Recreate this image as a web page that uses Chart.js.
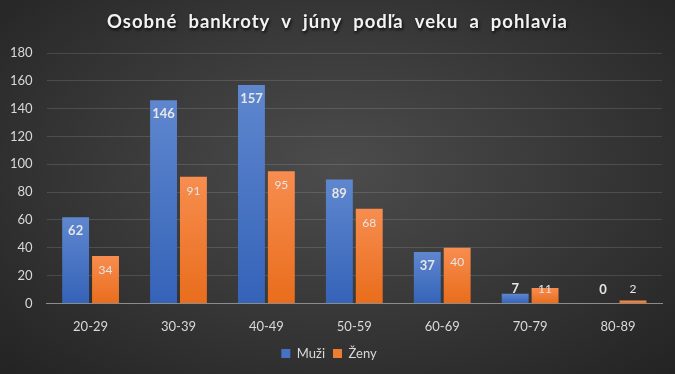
<!DOCTYPE html>
<html>
<head>
<meta charset="utf-8">
<script src="https://cdn.jsdelivr.net/npm/chart.js@4.4.1/dist/chart.umd.min.js"></script>
<style>
  html, body { margin: 0; padding: 0; }
  body {
    width: 675px; height: 374px; overflow: hidden;
    background: radial-gradient(ellipse at 50% 45%, #4c4c4c 0%, #3a3a3a 45%, #232323 100%);
  }
  #wrap { position: relative; width: 675px; height: 374px; }
</style>
</head>
<body>
<div id="wrap"><canvas id="chart"></canvas></div>
<script>
// chart data
const titleText = 'Osobné  bankroty  v  júny  podľa  veku  a  pohlavia';
const ageGroups = ['20-29', '30-39', '40-49', '50-59', '60-69', '70-79', '80-89'];
const muzi = [62, 146, 157, 89, 37, 7, 0];
const zeny = [34, 91, 95, 68, 40, 11, 2];
const seriesNames = ['Muži', 'Ženy'];

const FONT = 'Lato, "Open Sans", sans-serif';

// gradient per bar, lighter at the top
function barGradient(light, dark) {
  return (c) => {
    const chart = c.chart;
    if (!chart.chartArea || c.type !== 'data') return dark;
    const y = chart.scales.y;
    const top = y.getPixelForValue(c.raw);
    const base = y.getPixelForValue(0);
    if (base - top < 1) return dark;
    const g = chart.ctx.createLinearGradient(0, top, 0, base);
    g.addColorStop(0, light);
    g.addColorStop(1, dark);
    return g;
  };
}

// title with shadow + letter spacing
const titlePlugin = {
  id: 'fancyTitle',
  afterDraw(chart) {
    const ctx = chart.ctx;
    ctx.save();
    ctx.font = 'bold 18.5px ' + FONT;
    ctx.letterSpacing = '1px';
    ctx.fillStyle = '#f2f2f2';
    ctx.textAlign = 'center';
    ctx.textBaseline = 'middle';
    ctx.shadowColor = 'rgba(0,0,0,0.8)';
    ctx.shadowBlur = 3;
    ctx.shadowOffsetX = 1;
    ctx.shadowOffsetY = 2;
    ctx.fillText(titleText, chart.width / 2, 22);
    ctx.restore();
  }
};

// value labels on bars
const valueLabels = {
  id: 'valueLabels',
  afterDatasetsDraw(chart) {
    const ctx = chart.ctx;
    ctx.save();
    ctx.textAlign = 'center';
    ctx.textBaseline = 'middle';
    chart.data.datasets.forEach((ds, di) => {
      const meta = chart.getDatasetMeta(di);
      ctx.font = (di === 0 ? 'bold 13px ' : '12px ') + FONT;
      ctx.fillStyle = '#e6e6e6';
      meta.data.forEach((bar, i) => {
        const y = Math.min(bar.y + 14, bar.base - 14);
        ctx.fillText(String(ds.data[i]), bar.x, y);
      });
    });
    ctx.restore();
  }
};

new Chart(document.getElementById('chart'), {
  type: 'bar',
  data: {
    labels: ageGroups,
    datasets: [
      {
        label: seriesNames[0],
        data: muzi,
        backgroundColor: barGradient('#5f87cf', '#3563b8'),
        borderWidth: 0
      },
      {
        label: seriesNames[1],
        data: zeny,
        backgroundColor: barGradient('#f78d4f', '#e96d1c'),
        borderWidth: 0
      }
    ]
  },
  options: {
    responsive: true,
    maintainAspectRatio: false,
    animation: false,
    categoryPercentage: 0.68,
    barPercentage: 0.9,
    layout: { padding: { top: 53, left: -4, right: 13, bottom: 4 } },
    scales: {
      x: {
        grid: { display: false, drawTicks: false },
        border: { color: '#8c8c8c', width: 1 },
        ticks: { color: '#d9d9d9', font: { family: FONT, size: 13 }, padding: 16 },
        afterFit(scale) { scale.height -= 12; }
      },
      y: {
        min: 0, max: 180,
        ticks: { stepSize: 20, color: '#d9d9d9', font: { family: FONT, size: 13 }, padding: 14 },
        grid: { color: 'rgba(255,255,255,0.13)', drawTicks: false },
        border: { display: false }
      }
    },
    plugins: {
      title: { display: false },
      tooltip: { enabled: false },
      legend: {
        position: 'bottom',
        labels: {
          color: '#d9d9d9',
          font: { family: FONT, size: 13 },
          boxWidth: 9, boxHeight: 9,
          padding: 8,
          useBorderRadius: false,
          generateLabels(chart) {
            const cols = ['#4472c4', '#ed7d31'];
            return chart.data.datasets.map((ds, i) => ({
              text: ds.label, fillStyle: cols[i], strokeStyle: cols[i],
              lineWidth: 0, datasetIndex: i, fontColor: '#d9d9d9'
            }));
          }
        }
      }
    }
  },
  plugins: [titlePlugin, valueLabels]
});
</script>
</body>
</html>
